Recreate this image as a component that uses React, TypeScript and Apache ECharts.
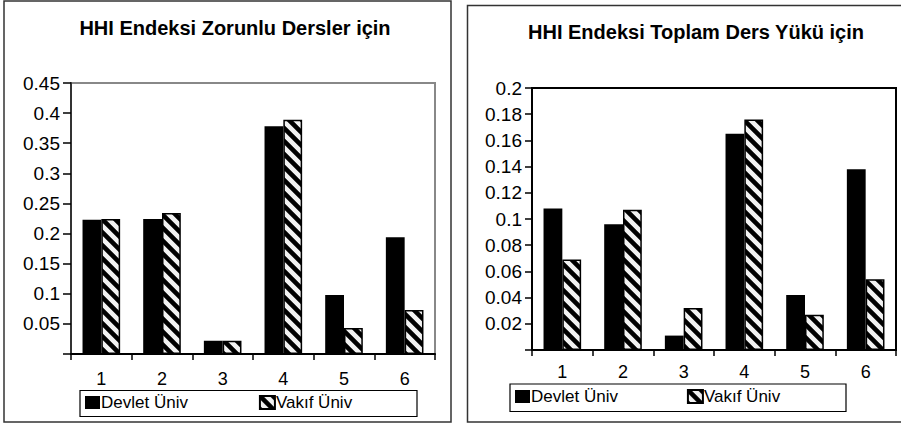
import React, { useEffect, useRef } from "react";
import * as echarts from "echarts";

const categories = ["1", "2", "3", "4", "5", "6"];
const seriesNames = ["Devlet Üniv", "Vakıf Üniv"];
const titles = ["HHI Endeksi Zorunlu Dersler için", "HHI Endeksi Toplam Ders Yükü için"];

const zorunluDevlet = [0.223, 0.224, 0.022, 0.378, 0.098, 0.194];
const zorunluVakif = [0.224, 0.234, 0.022, 0.389, 0.043, 0.073];
const toplamDevlet = [0.108, 0.096, 0.011, 0.165, 0.042, 0.138];
const toplamVakif = [0.069, 0.107, 0.032, 0.176, 0.027, 0.054];

const FONT = "'Liberation Sans', Arial, sans-serif";

function makeHatch(): HTMLCanvasElement {
  const c = document.createElement("canvas");
  c.width = 13;
  c.height = 13;
  const ctx = c.getContext("2d")!;
  ctx.fillStyle = "#f2f2f2";
  ctx.fillRect(0, 0, 13, 13);
  ctx.strokeStyle = "#000";
  ctx.lineWidth = 4.6;
  ctx.beginPath();
  for (let k = -2; k <= 2; k++) {
    ctx.moveTo(k * 13 - 6, -6);
    ctx.lineTo(k * 13 + 19, 19);
  }
  ctx.stroke();
  return c;
}

const fmt = (v: number) => (Math.abs(v) < 1e-9 ? "" : String(parseFloat(v.toFixed(3))));

export default function App() {
  const ref = useRef<HTMLDivElement>(null);
  useEffect(() => {
    if (!ref.current) return;
    const chart = echarts.init(ref.current, null, { renderer: "svg" });
    const hatch = { image: makeHatch(), repeat: "repeat" } as any;

    const grids = [
      { left: 71, top: 83, width: 364, height: 271 },
      { left: 532, top: 88, width: 364, height: 262 },
    ];
    const axisColor = ["#333", "#000"];
    const frameColor = ["#888", "#000"];
    const labelText = { fontFamily: FONT, fontSize: 19, color: "#000" };
    const legendText = { fontFamily: FONT, fontSize: 17, color: "#000", padding: [0, 0, 0, -4] };

    const option: any = {
      animation: false,
      backgroundColor: "#fff",
      textStyle: { fontFamily: FONT },
      title: [
        {
          text: titles[0],
          left: 235,
          top: 18,
          textAlign: "center",
          padding: 0,
          textStyle: { fontFamily: FONT, fontSize: 20, fontWeight: "bold", color: "#000" },
        },
        {
          text: titles[1],
          left: 696,
          top: 22,
          textAlign: "center",
          padding: 0,
          textStyle: { fontFamily: FONT, fontSize: 20, fontWeight: "bold", color: "#000" },
        },
      ],
      legend: [
        {
          data: seriesNames,
          left: 85,
          top: 394,
          padding: 0,
          itemWidth: 15,
          itemHeight: 13,
          itemGap: 71,
          icon: "rect",
          selectedMode: false,
          textStyle: legendText,
        },
        {
          data: seriesNames,
          left: 515,
          top: 388,
          padding: 0,
          itemWidth: 15,
          itemHeight: 13,
          itemGap: 69,
          icon: "rect",
          selectedMode: false,
          textStyle: legendText,
        },
      ],
      grid: grids.map((g, i) => ({
        ...g,
        show: true,
        borderColor: frameColor[i],
        borderWidth: 2,
        backgroundColor: "transparent",
        outerBoundsMode: "none",
        containLabel: false,
      })),
      xAxis: [0, 1].map((i) => ({
        type: "category",
        gridIndex: i,
        data: categories,
        boundaryGap: true,
        axisLine: { show: true, lineStyle: { color: "#000", width: 2 } },
        axisTick: { show: true, inside: false, length: 6, alignWithLabel: false, lineStyle: { color: "#000", width: 1.5 } },
        axisLabel: { ...labelText, fontSize: 18, margin: i === 0 ? 16 : 13 },
        splitLine: { show: false },
      })),
      yAxis: [
        {
          type: "value",
          gridIndex: 0,
          min: 0,
          max: 0.45,
          interval: 0.05,
          axisLine: { show: true, lineStyle: { color: axisColor[0], width: 2 } },
          axisTick: { show: true, inside: false, length: 8, lineStyle: { color: "#000", width: 1.5 } },
          axisLabel: { ...labelText, margin: 11, formatter: fmt },
          splitLine: { show: false },
        },
        {
          type: "value",
          gridIndex: 1,
          min: 0,
          max: 0.2,
          interval: 0.02,
          axisLine: { show: true, lineStyle: { color: axisColor[1], width: 2 } },
          axisTick: { show: true, inside: false, length: 7, lineStyle: { color: "#000", width: 1.5 } },
          axisLabel: { ...labelText, margin: 10, formatter: fmt },
          splitLine: { show: false },
        },
      ],
      series: [
        {
          name: seriesNames[0],
          type: "bar",
          xAxisIndex: 0,
          yAxisIndex: 0,
          data: zorunluDevlet,
          barGap: "0%",
          barCategoryGap: "38%",
          itemStyle: { color: "#000" },
        },
        {
          name: seriesNames[1],
          type: "bar",
          xAxisIndex: 0,
          yAxisIndex: 0,
          data: zorunluVakif,
          barGap: "0%",
          barCategoryGap: "38%",
          itemStyle: { color: hatch, borderColor: "#000", borderWidth: 1.5 },
        },
        {
          name: seriesNames[0],
          type: "bar",
          xAxisIndex: 1,
          yAxisIndex: 1,
          data: toplamDevlet,
          barGap: "0%",
          barCategoryGap: "38%",
          itemStyle: { color: "#000" },
        },
        {
          name: seriesNames[1],
          type: "bar",
          xAxisIndex: 1,
          yAxisIndex: 1,
          data: toplamVakif,
          barGap: "0%",
          barCategoryGap: "38%",
          itemStyle: { color: hatch, borderColor: "#000", borderWidth: 1.5 },
        },
      ],
      graphic: [
        {
          type: "rect",
          silent: true,
          z: -1,
          shape: { x: 4, y: 1, width: 447, height: 421 },
          style: { fill: "none", stroke: "#333", lineWidth: 1.5 },
        },
        {
          type: "rect",
          silent: true,
          z: -1,
          shape: { x: 467.5, y: 5.5, width: 445, height: 416.5 },
          style: { fill: "none", stroke: "#333", lineWidth: 1.5 },
        },
        {
          type: "rect",
          silent: true,
          z: -1,
          shape: { x: 80, y: 390.5, width: 337, height: 26 },
          style: { fill: "none", stroke: "#000", lineWidth: 1.2 },
        },
        {
          type: "rect",
          silent: true,
          z: -1,
          shape: { x: 510, y: 384, width: 336, height: 27.5 },
          style: { fill: "none", stroke: "#000", lineWidth: 1.2 },
        },
      ],
    };
    chart.setOption(option);
    return () => chart.dispose();
  }, []);
  return (
    <div
      ref={ref}
      style={{ position: "fixed", left: 0, top: 0, width: 901, height: 425 }}
    />
  );
}
